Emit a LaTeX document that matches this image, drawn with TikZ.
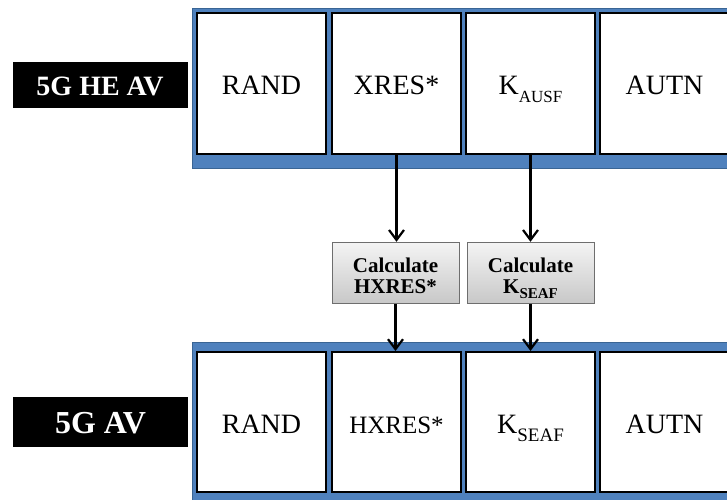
\documentclass[tikz,border=0pt]{standalone}
\usepackage{fontspec}
\setmainfont{Liberation Serif}
\usetikzlibrary{arrows.meta}
\definecolor{bandblue}{HTML}{4F81BD}
\definecolor{bandedge}{HTML}{3A6594}
\definecolor{calcedge}{HTML}{6E6E6E}
\definecolor{calctop}{HTML}{F4F4F4}
\definecolor{calcbot}{HTML}{C8C8C8}
% subscript set in text font, dropped below the baseline, taking no room
\newcommand{\subtxt}[3]{\raisebox{-#2}[0pt][0pt]{\fontsize{#1}{#1}\selectfont #3}}
\begin{document}
\begin{tikzpicture}[x=1pt,y=-1pt,
  band/.style={draw=bandedge, fill=bandblue, line width=1pt, rectangle,
    inner sep=0pt, anchor=north west},
  field/.style={draw=black, fill=white, line width=2pt, rectangle,
    inner sep=0pt, minimum width=129pt, text height=22pt, text depth=0pt,
    font=\fontsize{28}{30}\selectfont},
  tag/.style={fill=black, text=white, rectangle, inner sep=0pt,
    minimum width=175pt, text depth=0pt},
  calcbox/.style={draw=calcedge, line width=1pt, top color=calctop,
    bottom color=calcbot, rectangle, inner sep=0pt, minimum width=127pt,
    minimum height=61pt},
  calctext/.style={inner sep=0pt, align=center,
    font=\bfseries\fontsize{21}{21}\selectfont},
  arr/.style={line width=2.5pt,
    -{Straight Barb[length=10pt,width=15pt,line width=2.2pt]}}
]
\useasboundingbox (0,0) rectangle (727,499);
\clip (0,0) rectangle (727,499);

% 5G HE AV (top row)
\node[band, minimum width=560pt, minimum height=160pt] (heband) at (192,8) {};
\node[tag, minimum height=46pt, text height=20pt,
  font=\bfseries\fontsize{28}{30}\selectfont] (helabel) at (100,85) {5G HE AV};
\node[field, minimum height=141pt] (rand1) at (261.5,83.5) {RAND};
\node[field, minimum height=141pt] (xres)  at (396.5,83.5) {XRES*};
\node[field, minimum height=141pt] (kausf) at (530.5,83.5) {K\subtxt{17}{8pt}{AUSF}};
\node[field, minimum height=141pt] (autn1) at (664.5,83.5) {AUTN};

% derivation steps
\node[calcbox] (calch) at (395.5,272.8) {};
\node[calcbox] (calck) at (530.5,272.8) {};
\node[calctext] (calchtxt) at (395.5,275.5) {Calculate\\HXRES*};
\node[calctext] (calcktxt) at (530.5,275.5) {Calculate\\K\subtxt{15}{5pt}{SEAF}};

% 5G AV (bottom row)
\node[band, minimum width=560pt, minimum height=165pt] (avband) at (192,342) {};
\node[tag, minimum height=50pt, text height=23pt,
  font=\bfseries\fontsize{32}{34}\selectfont] (avlabel) at (100.5,422) {5G AV};
\node[field, minimum height=140pt] (rand2) at (261.5,422) {RAND};
\node[field, minimum height=140pt, font=\fontsize{25}{27}\selectfont] (hxres) at (396.5,422) {HXRES*};
\node[field, minimum height=140pt] (kseaf) at (530.5,422) {K\subtxt{19}{8pt}{SEAF}};
\node[field, minimum height=140pt] (autn2) at (664.5,422) {AUTN};

% arrows
\draw[arr] (xres.south) -- (xres.south |- calch.north);
\draw[arr] (kausf.south) -- (kausf.south |- calck.north);
\draw[arr] (calch.south) -- (calch.south |- hxres.north);
\draw[arr] (calck.south) -- (calck.south |- kseaf.north);
\end{tikzpicture}
\end{document}
